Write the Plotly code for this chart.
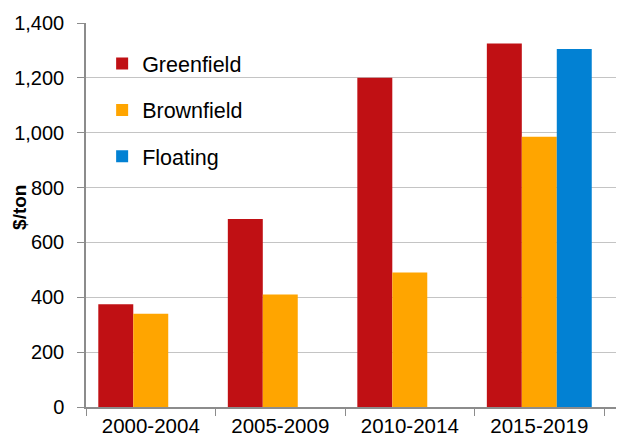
import plotly.graph_objects as go

categories = ["2000-2004", "2005-2009", "2010-2014", "2015-2019"]
greenfield = [375, 685, 1200, 1325]
brownfield = [340, 410, 490, 985]
floating = [None, None, None, 1305]
y_ticks = [0, 200, 400, 600, 800, 1000, 1200, 1400]
y_tick_labels = ["0", "200", "400", "600", "800", "1,000", "1,200", "1,400"]

colors = {"Greenfield": "#C01014", "Brownfield": "#FFA500", "Floating": "#0281D3"}

fig = go.Figure()
for name, vals in [("Greenfield", greenfield), ("Brownfield", brownfield), ("Floating", floating)]:
    fig.add_trace(go.Bar(x=categories, y=vals, name=name, marker_color=colors[name],
                         marker_line_width=0, legendgroup=name))

font = "Liberation Sans, Arial, sans-serif"
fig.update_layout(
    width=616, height=433,
    margin=dict(l=78, r=0, t=15, b=34, autoexpand=False),
    paper_bgcolor="white", plot_bgcolor="white",
    barmode="group", bargap=0.19, bargroupgap=0,
    font=dict(family=font, size=20, color="#000"),
    legend=dict(x=0.03, y=0.948, xanchor="left", yanchor="top",
                font=dict(size=21.5), tracegroupgap=15.5, itemwidth=30,
                bgcolor="rgba(0,0,0,0)"),
    xaxis=dict(range=[-0.5, 3.654], showline=True, linecolor="#8C8C8C", linewidth=1.5,
               ticks="outside", ticklen=7, tickcolor="#8C8C8C", tickson="boundaries",
               tickfont=dict(size=20.5), showgrid=False, automargin=False),
    yaxis=dict(range=[0, 1400], tickvals=y_ticks, ticktext=y_tick_labels,
               showline=True, linecolor="#8C8C8C", linewidth=1.5,
               ticks="outside", ticklen=7, tickcolor="#8C8C8C",
               showgrid=True, gridcolor="#C4C4C4", gridwidth=1,
               tickfont=dict(size=20), zeroline=False, automargin=False,
               ticklabelstandoff=9),
    annotations=[dict(text="<b>$/ton</b>", textangle=-90, xref="paper", yref="paper",
                      x=-0.1227, y=0.521, xanchor="center", yanchor="middle",
                      showarrow=False, font=dict(size=19))],
)
fig.write_html("out.html")
